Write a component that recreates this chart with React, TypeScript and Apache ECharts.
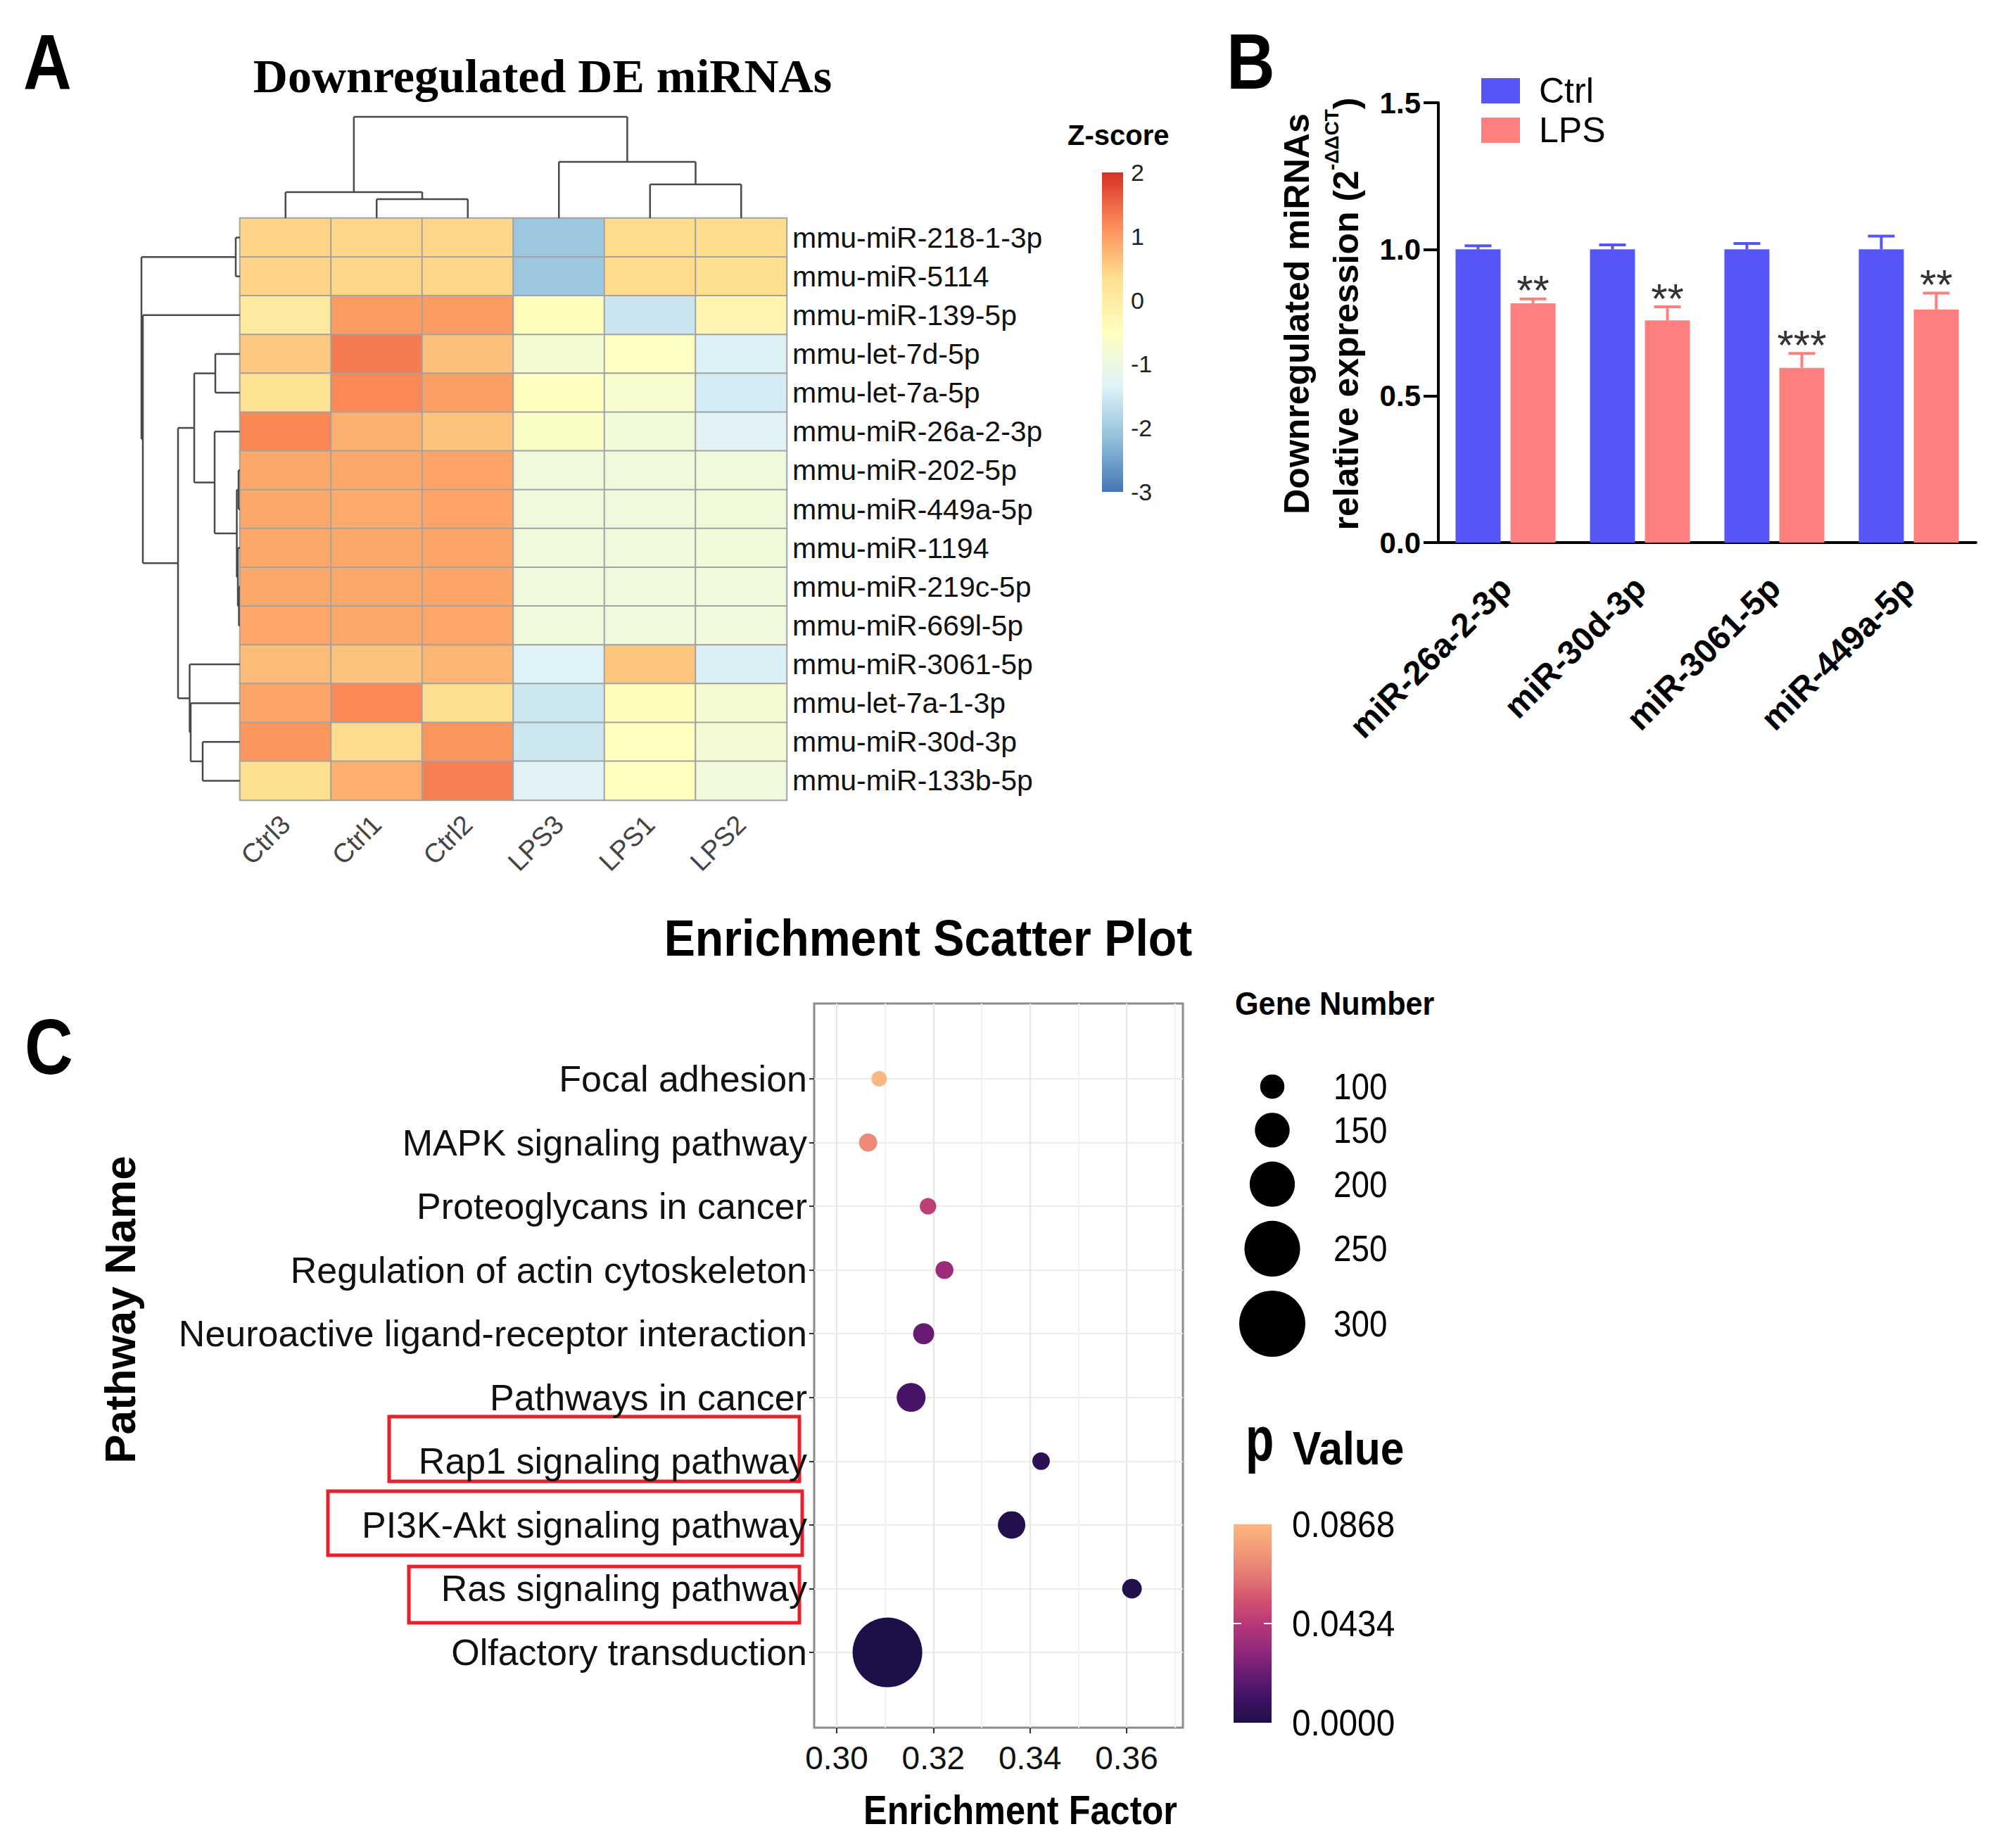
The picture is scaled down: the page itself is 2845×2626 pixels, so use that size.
import React, { useEffect, useRef } from "react";
import * as echarts from "echarts";

type Tree = number | [number, Tree, Tree];

// ---------------- Panel A: heatmap data ----------------
const heatCols = ["Ctrl3", "Ctrl1", "Ctrl2", "LPS3", "LPS1", "LPS2"];
const heatRows = [
  "mmu-miR-218-1-3p",
  "mmu-miR-5114",
  "mmu-miR-139-5p",
  "mmu-let-7d-5p",
  "mmu-let-7a-5p",
  "mmu-miR-26a-2-3p",
  "mmu-miR-202-5p",
  "mmu-miR-449a-5p",
  "mmu-miR-1194",
  "mmu-miR-219c-5p",
  "mmu-miR-669l-5p",
  "mmu-miR-3061-5p",
  "mmu-let-7a-1-3p",
  "mmu-miR-30d-3p",
  "mmu-miR-133b-5p",
];
const zScores = [
  [0.45, 0.43, 0.43, -2.04, 0.37, 0.36],
  [0.45, 0.43, 0.43, -2.04, 0.38, 0.35],
  [0.09, 1.03, 1.03, -0.45, -1.56, -0.23],
  [0.57, 1.34, 0.65, -0.77, -0.55, -1.38],
  [0.28, 1.2, 1.01, -0.5, -0.72, -1.45],
  [1.22, 0.81, 0.63, -0.62, -0.9, -1.3],
  [0.9, 0.9, 0.95, -0.92, -0.92, -0.91],
  [0.9, 0.88, 0.95, -0.92, -0.91, -0.9],
  [0.9, 0.9, 0.93, -0.92, -0.91, -0.9],
  [0.9, 0.9, 0.93, -0.91, -0.91, -0.91],
  [0.92, 0.9, 0.92, -0.92, -0.91, -0.91],
  [0.69, 0.63, 0.77, -1.35, 0.59, -1.4],
  [0.93, 1.2, 0.33, -1.53, -0.42, -0.76],
  [1.08, 0.38, 1.08, -1.53, -0.48, -0.8],
  [0.35, 0.83, 1.3, -1.3, -0.48, -0.92],
];
// hierarchical clustering trees: [height, left, right]; leaves are row/col indices
const rowTree: Tree = [
  14.0,
  [0.6, 0, 1],
  [
    13.8,
    2,
    [
      8.8,
      [6.5, [3.5, 3, 4], [3.6, 5, [0.45, [0.2, 6, 7], [0.3, 8, [0.15, 9, 10]]]]],
      [7.15, 11, [7.0, 12, [5.3, 13, 14]]],
    ],
  ],
];
const colTree: Tree = [14.4, [3.7, 0, [2.7, 1, 2]], [8.0, 3, [4.8, 4, 5]]];
const zTicks = [2, 1, 0, -1, -2, -3];
const zMin = -3;
const zMax = 2;
const rdylbu = ["#4575B4", "#91BFDB", "#E0F3F8", "#FFFFBF", "#FEE090", "#FC8D59", "#D73027"];

// ---------------- Panel B: bar data ----------------
const barCats = ["miR-26a-2-3p", "miR-30d-3p", "miR-3061-5p", "miR-449a-5p"];
const ctrlMean = [1.0, 1.0, 1.0, 1.0];
const ctrlSem = [0.012, 0.015, 0.02, 0.045];
const lpsMean = [0.816, 0.758, 0.596, 0.795];
const lpsSem = [0.015, 0.046, 0.049, 0.056];
const lpsSig = ["**", "**", "***", "**"];
const barTicks = [0, 0.5, 1.0, 1.5];

// ---------------- Panel C: enrichment scatter data ----------------
const pathways = [
  "Focal adhesion",
  "MAPK signaling pathway",
  "Proteoglycans in cancer",
  "Regulation of actin cytoskeleton",
  "Neuroactive ligand-receptor interaction",
  "Pathways in cancer",
  "Rap1 signaling pathway",
  "PI3K-Akt signaling pathway",
  "Ras signaling pathway",
  "Olfactory transduction",
];
const enrichFactor = [0.3088, 0.3065, 0.3189, 0.3223, 0.318, 0.3154, 0.3423, 0.3362, 0.3611, 0.3105];
const geneNumber = [58, 71, 63, 70, 85, 122, 68, 115, 78, 317];
const pValue = [0.0868, 0.07, 0.046, 0.034, 0.021, 0.013, 0.005, 0.001, 0.0015, 0.0];
const sizeBreaks = [100, 150, 200, 250, 300];
const pBreaks = [0.0868, 0.0434, 0.0];
const enrichTicks = [0.3, 0.32, 0.34, 0.36];

// ---------------- styles / layout ----------------
const FONT = "Liberation Sans";
const ctrlColor = "#5656F6";
const lpsColor = "#FF7F7F";
const pColors = ["#1F0F48", "#3E1265", "#6A1C74", "#952A7B", "#B8387A", "#D3546F", "#E67B73", "#F39C78", "#FBB77F"];
const pMax = 0.0868;

const HM = { left: 341, top: 310, width: 777, height: 827 };
const BAR = { left: 2044, top: 146, width: 764, height: 625, barWidth: 64, gapPct: 22 };
const SC = { left: 1157, top: 1426, width: 524, height: 1029, x0: 1189, pxPerUnit: 6867, catTop: 1533, catStep: 90.56 };

const sizeOf = (g: number) => 4.75 + 0.2975 * g;

function segments(tree: Tree): number[][] {
  const segs: number[][] = [];
  const walk = (t: Tree): [number, number] => {
    if (typeof t === "number") return [t + 0.5, 0];
    const [h, l, r] = t;
    const a = walk(l);
    const b = walk(r);
    segs.push([a[0], a[1], a[0], h]);
    segs.push([b[0], b[1], b[0], h]);
    segs.push([a[0], h, b[0], h]);
    return [(a[0] + b[0]) / 2, h];
  };
  walk(tree);
  return segs;
}

function txt(text: string, x: number, y: number, o: any = {}) {
  return {
    type: "text",
    x,
    y,
    scaleX: o.scaleX ?? 1,
    rotation: o.rotation ?? 0,
    style: {
      text,
      x: 0,
      y: 0,
      fontSize: o.fontSize ?? 40,
      fontWeight: o.fontWeight ?? "normal",
      fontFamily: o.fontFamily ?? FONT,
      fill: o.fill ?? "#000",
      textAlign: o.align ?? "left",
      textVerticalAlign: o.valign ?? "middle",
      rich: o.rich,
    },
  };
}

function buildOption() {
  const heatData: number[][] = [];
  zScores.forEach((row, r) => row.forEach((v, c) => heatData.push([c, r, v])));

  const colSegs = segments(colTree); // [pos, h, pos, h]
  const rowSegs = segments(rowTree).map((s) => [s[1], s[0], s[3], s[2]]); // [h, pos, h, pos]

  const dendroRender = (params: any, api: any) => {
    const p1 = api.coord([api.value(0), api.value(1)]);
    const p2 = api.coord([api.value(2), api.value(3)]);
    return {
      type: "line",
      shape: { x1: p1[0], y1: p1[1], x2: p2[0], y2: p2[1] },
      style: { stroke: "#4a4a4a", lineWidth: 2.5 },
    };
  };

  const errData: number[][] = [];
  const errStars: string[] = [];
  barCats.forEach((_, i) => {
    errData.push([i, 0, ctrlMean[i], ctrlSem[i]]);
    errStars.push("");
    errData.push([i, 1, lpsMean[i], lpsSem[i]]);
    errStars.push(lpsSig[i]);
  });
  const barOffset = (BAR.barWidth * (1 + BAR.gapPct / 100)) / 2;

  const scatterData = pathways.map((_, i) => [enrichFactor[i], i, geneNumber[i], pValue[i]]);

  const scXMin = 0.3;
  const scXMax = 0.37;
  const yMinC = -(SC.catTop - SC.top) / SC.catStep;
  const yMaxC = pathways.length - 1 + (SC.top + SC.height - (SC.catTop + (pathways.length - 1) * SC.catStep)) / SC.catStep;

  const graphics: any[] = [];
  // panel letters
  graphics.push(txt("A", 33, 88, { fontSize: 112, fontWeight: "bold", scaleX: 0.85 }));
  graphics.push(txt("B", 1743, 87, { fontSize: 112, fontWeight: "bold", scaleX: 0.85 }));
  graphics.push(txt("C", 35, 1487, { fontSize: 112, fontWeight: "bold", scaleX: 0.85 }));
  // panel A title + legend
  graphics.push(txt("Downregulated DE miRNAs", 771, 108, { fontSize: 68, fontWeight: "bold", fontFamily: "Liberation Serif", align: "center" }));
  graphics.push(txt("Z-score", 1517, 192, { fontSize: 40, fontWeight: "bold" }));
  const zbar = { x: 1566, y: 245, w: 30, h: 454 };
  graphics.push({
    type: "rect",
    shape: { x: zbar.x, y: zbar.y, width: zbar.w, height: zbar.h },
    style: {
      fill: {
        type: "linear", x: 0, y: 0, x2: 0, y2: 1,
        colorStops: rdylbu.slice().reverse().map((c, i) => ({ offset: i / (rdylbu.length - 1), color: c })),
      },
    },
  });
  zTicks.forEach((v) =>
    graphics.push(txt(String(v), 1607, zbar.y + ((zMax - v) / (zMax - zMin)) * zbar.h, { fontSize: 34, fill: "#222" }))
  );
  // panel B y title
  graphics.push({
    type: "text",
    x: 1878,
    y: 446,
    rotation: Math.PI / 2,
    style: {
      text: "{t|Downregulated miRNAs}\n{t|relative expression (2}{s|-ΔΔCT}{t|)}",
      x: 0,
      y: 0,
      textAlign: "center",
      textVerticalAlign: "middle",
      rich: {
        t: { fontSize: 50, fontWeight: "bold", fontFamily: FONT, lineHeight: 70, fill: "#000" },
        s: { fontSize: 28, fontWeight: "bold", fontFamily: FONT, lineHeight: 34, verticalAlign: "top", fill: "#000" },
      },
    },
  });
  // panel C titles
  graphics.push(txt("Enrichment Scatter Plot", 1319, 1333, { fontSize: 72, fontWeight: "bold", align: "center", scaleX: 0.92 }));
  graphics.push(txt("Enrichment Factor", 1450, 2572, { fontSize: 58, fontWeight: "bold", align: "center", scaleX: 0.87 }));
  graphics.push(txt("Pathway Name", 170, 1861, { fontSize: 62, fontWeight: "bold", align: "center", rotation: Math.PI / 2 }));
  // highlight boxes
  [
    [553, 2013, 583, 92],
    [466, 2119, 674, 91],
    [581, 2226, 555, 80],
  ].forEach(([x, y, w, h]) =>
    graphics.push({ type: "rect", shape: { x, y, width: w, height: h }, style: { fill: "none", stroke: "#E8202A", lineWidth: 5 } })
  );
  // Gene Number legend
  graphics.push(txt("Gene Number", 1755, 1426, { fontSize: 47, fontWeight: "bold", scaleX: 0.92 }));
  let ly = 1544;
  sizeBreaks.forEach((g, i) => {
    if (i > 0) ly += (sizeOf(sizeBreaks[i - 1]) + sizeOf(g)) / 2 + 20;
    graphics.push({ type: "circle", shape: { cx: 1808, cy: ly, r: sizeOf(g) / 2 }, style: { fill: "#000" } });
    graphics.push(txt(String(g), 1895, ly, { fontSize: 52, scaleX: 0.88 }));
  });
  // p Value legend
  graphics.push(txt("p", 1770, 2088, { fontSize: 88, fontWeight: "bold", scaleX: 0.75, valign: "bottom" }));
  graphics.push(txt("Value", 1837, 2091, { fontSize: 66, fontWeight: "bold", scaleX: 0.92, valign: "bottom" }));
  const pbar = { x: 1753, y: 2166, w: 54, h: 282 };
  graphics.push({
    type: "rect",
    shape: { x: pbar.x, y: pbar.y, width: pbar.w, height: pbar.h },
    style: {
      fill: {
        type: "linear", x: 0, y: 0, x2: 0, y2: 1,
        colorStops: pColors.slice().reverse().map((c, i) => ({ offset: i / (pColors.length - 1), color: c })),
      },
    },
  });
  pBreaks.forEach((v) => {
    const y = pbar.y + ((pMax - v) / pMax) * pbar.h;
    graphics.push(txt(v.toFixed(4), 1836, y, { fontSize: 52, scaleX: 0.92 }));
    if (v > 0 && v < pMax) {
      graphics.push({ type: "line", shape: { x1: pbar.x, y1: y, x2: pbar.x + 11, y2: y }, style: { stroke: "#fff", lineWidth: 2 } });
      graphics.push({ type: "line", shape: { x1: pbar.x + pbar.w - 11, y1: y, x2: pbar.x + pbar.w, y2: y }, style: { stroke: "#fff", lineWidth: 2 } });
    }
  });

  return {
    animation: false,
    backgroundColor: "#ffffff",
    textStyle: { fontFamily: FONT },
    grid: [
      { ...HM },
      { left: HM.left, top: 160, width: HM.width, height: HM.top - 160 },
      { left: 191, top: HM.top, width: HM.left - 191, height: HM.height },
      { left: BAR.left, top: BAR.top, width: BAR.width, height: BAR.height },
      { left: SC.left, top: SC.top, width: SC.width, height: SC.height, show: true, borderColor: "#8c8c8c", borderWidth: 3, backgroundColor: "transparent" },
      { left: SC.x0, top: SC.top, width: (scXMax - scXMin) * SC.pxPerUnit, height: SC.height },
      { left: SC.left, top: SC.catTop, width: SC.width, height: (pathways.length - 1) * SC.catStep },
      { left: SC.x0, top: SC.top, width: (enrichTicks[enrichTicks.length - 1] - enrichTicks[0]) * SC.pxPerUnit, height: SC.height },
    ],
    xAxis: [
      {
        gridIndex: 0, type: "category", data: heatCols,
        axisLine: { show: false }, axisTick: { show: false },
        axisLabel: { rotate: 45, fontSize: 38, color: "#444", margin: 28, interval: 0 },
      },
      { gridIndex: 1, type: "value", min: 0, max: 6, show: false },
      { gridIndex: 2, type: "value", min: 0, max: 15, inverse: true, show: false },
      {
        gridIndex: 3, type: "category", data: barCats,
        axisLine: { lineStyle: { color: "#000", width: 4 } },
        axisTick: { alignWithLabel: true, length: 22, lineStyle: { color: "#000", width: 4 } },
        axisLabel: { rotate: 45, fontSize: 48, fontWeight: "bold", color: "#000", margin: 56, interval: 0 },
      },
      { gridIndex: 4, type: "value", min: 0, max: 1, show: false },
      {
        gridIndex: 5, type: "value", min: scXMin, max: scXMax, interval: 0.01,
        axisLine: { show: false }, axisTick: { show: false }, axisLabel: { show: false },
        splitLine: { show: true, lineStyle: { color: ["#e6e6e6", "#f1f1f1"], width: 2 } },
      },
      { gridIndex: 6, type: "value", min: 0, max: 1, show: false },
      {
        gridIndex: 7, type: "value", min: enrichTicks[0], max: enrichTicks[enrichTicks.length - 1], interval: 0.02,
        axisLine: { show: false },
        axisTick: { show: true, length: 8, lineStyle: { color: "#333", width: 2 } },
        axisLabel: { fontSize: 46, color: "#111", margin: 20, formatter: (v: number) => v.toFixed(2) },
        splitLine: { show: false },
      },
    ],
    yAxis: [
      {
        gridIndex: 0, type: "category", data: heatRows, inverse: true, position: "right",
        axisLine: { show: false }, axisTick: { show: false },
        axisLabel: { fontSize: 41, color: "#111", margin: 8, interval: 0 },
      },
      { gridIndex: 1, type: "value", min: 0, max: 15, show: false },
      { gridIndex: 2, type: "value", min: 0, max: 15, inverse: true, show: false },
      {
        gridIndex: 3, type: "value", min: barTicks[0], max: barTicks[barTicks.length - 1], interval: 0.5,
        axisLine: { show: true, lineStyle: { color: "#000", width: 4 } },
        axisTick: { show: true, length: 21, lineStyle: { color: "#000", width: 4 } },
        axisLabel: { fontSize: 42, fontWeight: "bold", color: "#000", margin: 25, formatter: (v: number) => v.toFixed(1) },
        splitLine: { show: false },
      },
      { gridIndex: 4, type: "value", min: 0, max: 1, show: false },
      { gridIndex: 5, type: "value", min: yMinC, max: yMaxC, inverse: true, show: false },
      {
        gridIndex: 6, type: "category", data: pathways, inverse: true, boundaryGap: false,
        axisLine: { show: false },
        axisTick: { show: true, length: 7, lineStyle: { color: "#333", width: 2 } },
        axisLabel: { fontSize: 52, color: "#111", margin: 10, interval: 0 },
        splitLine: { show: true, lineStyle: { color: "#ebebeb", width: 2 } },
      },
      { gridIndex: 7, type: "value", min: 0, max: 1, show: false },
    ],
    visualMap: [
      { type: "continuous", seriesIndex: 0, dimension: 2, min: zMin, max: zMax, inRange: { color: rdylbu }, show: false },
      { type: "continuous", seriesIndex: 6, dimension: 3, min: 0, max: pMax, inRange: { color: pColors }, show: false },
    ],
    legend: {
      data: ["Ctrl", "LPS"], left: 2100, top: 96, orient: "vertical",
      itemWidth: 55, itemHeight: 36, itemGap: 0, icon: "rect",
      textStyle: { fontSize: 50, color: "#000", lineHeight: 56, padding: [0, 0, 0, 22] },
    },
    series: [
      {
        type: "heatmap", xAxisIndex: 0, yAxisIndex: 0, data: heatData,
        itemStyle: { borderColor: "#a3a3a3", borderWidth: 2 },
        emphasis: { disabled: true },
      },
      {
        type: "custom", coordinateSystem: "cartesian2d", xAxisIndex: 1, yAxisIndex: 1,
        data: colSegs, encode: { x: [0, 2], y: [1, 3] }, renderItem: dendroRender, silent: true, clip: false,
      },
      {
        type: "custom", coordinateSystem: "cartesian2d", xAxisIndex: 2, yAxisIndex: 2,
        data: rowSegs, encode: { x: [0, 2], y: [1, 3] }, renderItem: dendroRender, silent: true, clip: false,
      },
      {
        name: "Ctrl", type: "bar", xAxisIndex: 3, yAxisIndex: 3, data: ctrlMean,
        barWidth: BAR.barWidth, barGap: BAR.gapPct + "%", itemStyle: { color: ctrlColor },
      },
      {
        name: "LPS", type: "bar", xAxisIndex: 3, yAxisIndex: 3, data: lpsMean,
        barWidth: BAR.barWidth, barGap: BAR.gapPct + "%", itemStyle: { color: lpsColor },
      },
      {
        type: "custom", coordinateSystem: "cartesian2d", xAxisIndex: 3, yAxisIndex: 3, z: 5,
        data: errData, encode: { x: 0, y: 2 }, silent: true, clip: false,
        renderItem: (params: any, api: any) => {
          const ci = api.value(0);
          const si = api.value(1);
          const m = api.value(2);
          const e = api.value(3);
          const base = api.coord([ci, m]);
          const top = api.coord([ci, m + e]);
          const x = base[0] + (si === 0 ? -barOffset : barOffset);
          const color = si === 0 ? ctrlColor : lpsColor;
          const children: any[] = [
            { type: "line", shape: { x1: x, y1: base[1], x2: x, y2: top[1] }, style: { stroke: color, lineWidth: 4 } },
            { type: "line", shape: { x1: x - 19, y1: top[1], x2: x + 19, y2: top[1] }, style: { stroke: color, lineWidth: 4 } },
          ];
          const star = errStars[params.dataIndex];
          if (star) {
            children.push({
              type: "text",
              style: { text: star, x, y: top[1] - 12, textAlign: "center", textVerticalAlign: "middle", fontSize: 60, fontFamily: FONT, fill: "#333" },
            });
          }
          return { type: "group", children };
        },
      },
      {
        type: "scatter", xAxisIndex: 5, yAxisIndex: 5, data: scatterData,
        symbolSize: (v: number[]) => sizeOf(v[2]),
        itemStyle: { opacity: 1 },
        emphasis: { disabled: true },
      },
    ],
    graphic: graphics,
  };
}

export default function App() {
  const ref = useRef<HTMLDivElement>(null);
  useEffect(() => {
    document.body.style.margin = "0";
    document.body.style.background = "#fff";
    const chart = echarts.init(ref.current as HTMLDivElement, undefined, { renderer: "svg" });
    chart.setOption(buildOption() as any);
    return () => chart.dispose();
  }, []);
  return <div ref={ref} style={{ width: 2845, height: 2626, background: "#fff" }} />;
}
